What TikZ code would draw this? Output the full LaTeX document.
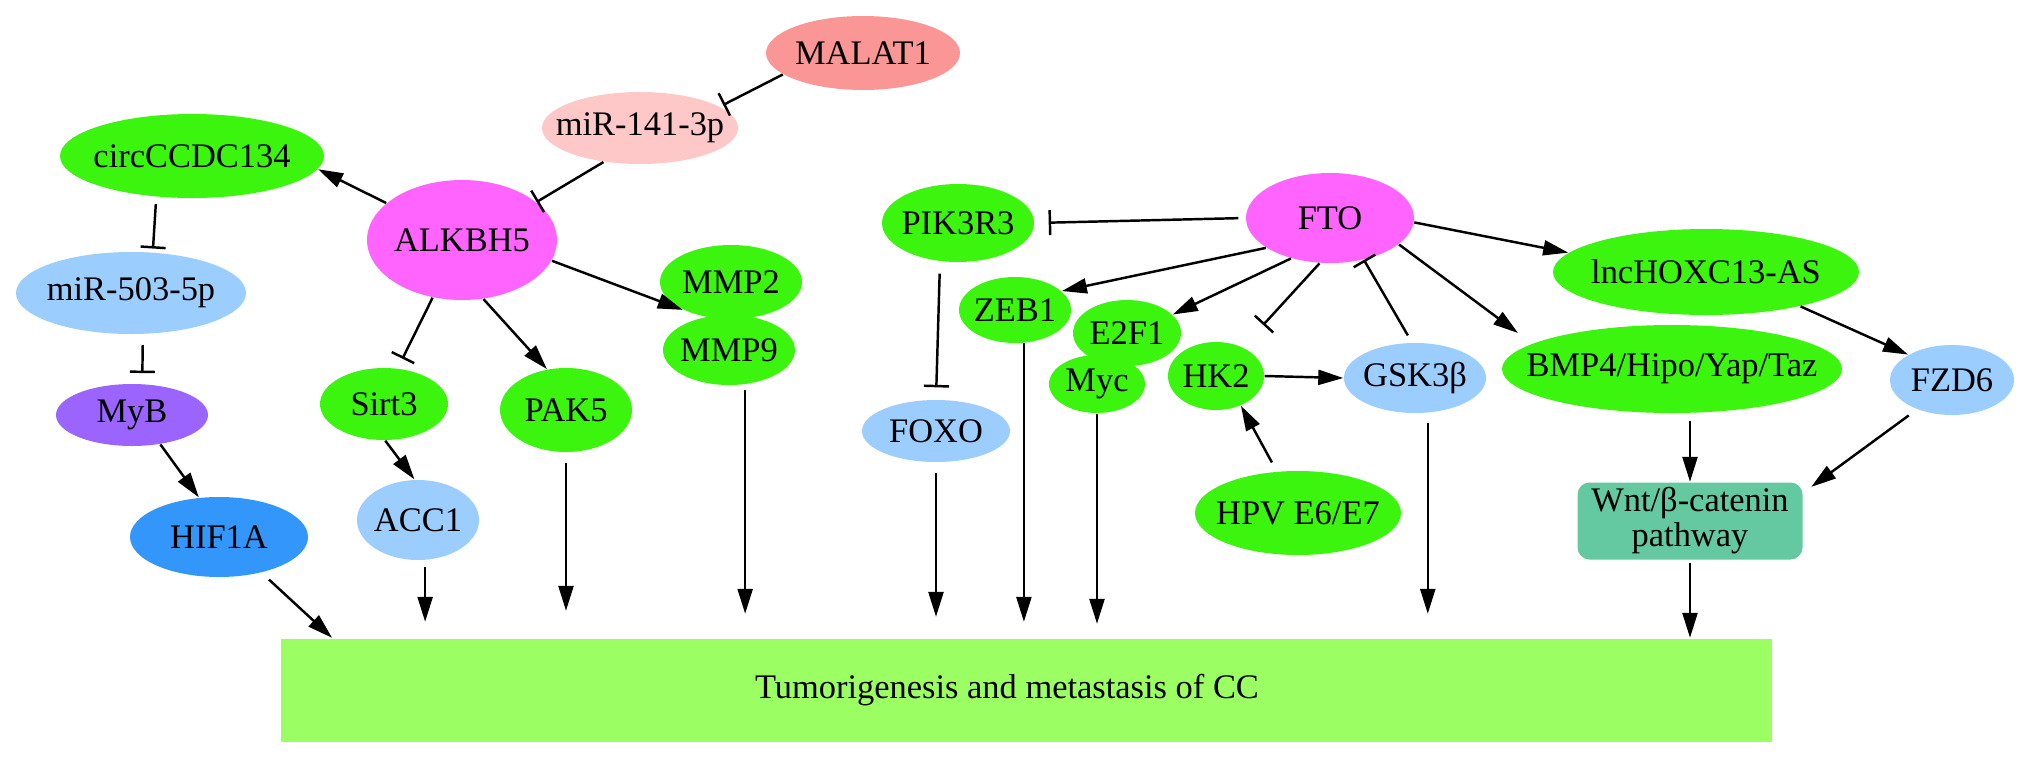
\documentclass[tikz,border=0pt]{standalone}
\usepackage{fontspec}
\setmainfont{Liberation Serif}
\usetikzlibrary{arrows.meta,positioning,shapes.geometric,calc}

\definecolor{geneGreen}{RGB}{60,245,15}
\definecolor{outGreen}{RGB}{155,255,100}
\definecolor{eraserPink}{RGB}{255,100,255}
\definecolor{softBlue}{RGB}{155,205,255}
\definecolor{lncRed}{RGB}{250,150,150}
\definecolor{mirPink}{RGB}{255,200,200}
\definecolor{mybPurple}{RGB}{155,100,255}
\definecolor{hifBlue}{RGB}{50,150,250}
\definecolor{wntTeal}{RGB}{100,200,160}

\newcommand{\nodefont}{\fontsize{9.8}{10}\selectfont}
\newcommand{\lab}[1]{\makebox[0pt]{#1}}

\begin{document}
\begin{tikzpicture}[
  gene/.style={ellipse, inner sep=0pt, font=\nodefont, fill=geneGreen},
  outcome/.style={rectangle, inner sep=0pt, font=\nodefont, fill=outGreen},
  arrow/.style={-{Triangle[length=2.5mm, width=1.5mm]}, line width=0.7pt},
  inhibit/.style={-{Bar[width=2.5mm]}, line width=0.7pt}
]
\useasboundingbox (0,0) rectangle (20.31,-7.59);

% ALKBH5 axis
\node[gene, fill=lncRed, minimum width=1.94cm, minimum height=0.74cm] (malat) at (8.63,-0.53) {\lab{MALAT1}};
\node[gene, fill=mirPink, minimum width=1.96cm, minimum height=0.72cm] (mir141) at (6.40,-1.28) {\lab{miR-141-3p}};
\node[gene, fill=eraserPink, minimum width=1.90cm, minimum height=1.20cm] (alkbh5) at (4.62,-2.40) {\lab{ALKBH5}};
\node[gene, minimum width=2.64cm, minimum height=0.84cm] (circ) at (1.92,-1.56) {\lab{circCCDC134}};
\node[gene, fill=softBlue, minimum width=2.30cm, minimum height=0.82cm] (mir503) at (1.31,-2.93) {\lab{miR-503-5p}};
\node[gene, fill=mybPurple, minimum width=1.52cm, minimum height=0.62cm] (myb) at (1.32,-4.15) {\lab{MyB}};
\node[gene, fill=hifBlue, minimum width=1.78cm, minimum height=0.80cm] (hif1a) at (2.19,-5.37) {\lab{HIF1A}};
\node[gene, minimum width=1.28cm, minimum height=0.72cm] (sirt3) at (3.84,-4.04) {\lab{Sirt3}};
\node[gene, fill=softBlue, minimum width=1.22cm, minimum height=0.80cm] (acc1) at (4.18,-5.20) {\lab{ACC1}};
\node[gene, minimum width=1.32cm, minimum height=0.84cm] (pak5) at (5.66,-4.10) {\lab{PAK5}};
\node[gene, minimum width=1.42cm, minimum height=0.74cm] (mmp2) at (7.31,-2.82) {\lab{MMP2}};
\node[gene, minimum width=1.32cm, minimum height=0.70cm] (mmp9) at (7.29,-3.50) {\lab{MMP9}};

% FTO axis
\node[gene, fill=eraserPink, minimum width=1.68cm, minimum height=0.90cm] (fto) at (13.30,-2.18) {\lab{FTO}};
\node[gene, minimum width=1.52cm, minimum height=0.78cm] (pik3r3) at (9.58,-2.23) {\lab{PIK3R3}};
\node[gene, fill=softBlue, minimum width=1.48cm, minimum height=0.62cm] (foxo) at (9.36,-4.31) {\lab{FOXO}};
\node[gene, minimum width=1.12cm, minimum height=0.66cm] (zeb1) at (10.15,-3.10) {\lab{ZEB1}};
\node[gene, minimum width=1.08cm, minimum height=0.66cm] (e2f1) at (11.27,-3.33) {\lab{E2F1}};
\node[gene, minimum width=0.96cm, minimum height=0.58cm] (myc) at (10.97,-3.84) {\lab{Myc}};
\node[gene, minimum width=0.96cm, minimum height=0.68cm] (hk2) at (12.16,-3.76) {\lab{HK2}};
\node[gene, fill=softBlue, minimum width=1.42cm, minimum height=0.70cm] (gsk3b) at (14.15,-3.78) {\lab{GSK3β}};
\node[gene, minimum width=2.06cm, minimum height=0.84cm] (hpv) at (12.98,-5.13) {\lab{HPV E6/E7}};
\node[gene, minimum width=3.06cm, minimum height=0.86cm] (lnc) at (17.06,-2.72) {\lab{lncHOXC13-AS}};
\node[gene, minimum width=3.40cm, minimum height=0.88cm] (bmp4) at (16.72,-3.69) {\lab{BMP4/Hipo/Yap/Taz}};
\node[gene, fill=softBlue, minimum width=1.24cm, minimum height=0.70cm] (fzd6) at (19.52,-3.80) {\lab{FZD6}};
\node[outcome, fill=wntTeal, rounded corners=0.12cm, minimum width=2.25cm, minimum height=0.77cm, align=center] (wnt) at (16.90,-5.21) {Wnt/β-catenin\\ pathway};

% Outcome
\node[outcome, minimum width=14.91cm, minimum height=1.03cm] (tumor) at (10.26,-6.90) {\hspace*{-0.38cm}Tumorigenesis and metastasis of CC};

% ALKBH5 edges
\draw[inhibit, shorten >=1pt] (malat.195) -- (mir141.15);
\draw[inhibit] (mir141.223) -- (alkbh5.27);
\draw[arrow] (alkbh5.154) -- (circ.-6);
\draw[inhibit, shorten <=2pt, shorten >=1pt] (circ.229) -- (mir503.62);
\draw[inhibit, shorten <=3pt, shorten >=3pt] (mir503.-74) -- (myb.72);
\draw[arrow] (myb.-46) -- (hif1a.117);
\draw[arrow, shorten <=0.1cm] (hif1a.-40) -- ($(tumor.north west)!0.035!(tumor.north east)$);
\draw[inhibit, shorten >=3pt] (alkbh5.-117) -- (sirt3.69);
\draw[arrow] (alkbh5.-70) -- (pak5.115);
\draw[arrow] (sirt3.-88) -- (acc1.95);
\draw[arrow] (alkbh5.-13) -- (mmp2.210);
\draw[arrow, shorten <=0.07cm, shorten >=0.16cm] (acc1.-80) -- (acc1.-80 |- tumor.north);
\draw[arrow, shorten <=0.1cm, shorten >=0.27cm] (pak5.south) -- (pak5.south |- tumor.north);
\draw[arrow, shorten <=0.05cm, shorten >=0.24cm] (mmp9.-65) -- (mmp9.-65 |- tumor.north);

% FTO edges
\draw[inhibit, shorten <=0.07cm, shorten >=0.14cm] (fto.west) -- (pik3r3.east);
\draw[inhibit, shorten <=0.12cm, shorten >=0.12cm] (pik3r3.-115) -- (foxo.north);
\draw[arrow, shorten <=0.1cm, shorten >=0.21cm] (foxo.south) -- (foxo.south |- tumor.north);
\draw[arrow] (fto.205) -- (zeb1.22);
\draw[arrow, shorten >=0.16cm] (zeb1.-75) -- (zeb1.-75 |- tumor.north);
\draw[arrow] (fto.226) -- (e2f1.22);
\draw[arrow, shorten >=0.14cm] (myc.south) -- (myc.south |- tumor.north);
\draw[inhibit, shorten >=0.3cm] (fto.257) -- (hk2.47);
\draw[arrow, shorten <=0.1cm] (hpv.117) -- (hk2.-50);
\draw[arrow] (hk2.east) -- (gsk3b.west);
\draw[inhibit, shorten <=0.08cm] (gsk3b.95) -- (fto.-51);
\draw[arrow, shorten <=0.1cm, shorten >=0.24cm] (gsk3b.-70) -- (gsk3b.-70 |- tumor.north);
\draw[arrow] (fto.-21) -- ([shift={(-1.54,0.36)}]bmp4.center);
\draw[arrow] (fto.-3) -- (lnc.172);
\draw[arrow] (lnc.-20) -- (fzd6.150);
\draw[arrow, shorten <=0.07cm] (bmp4.south -| wnt.north) -- (wnt.north);
\draw[arrow, shorten <=0.1cm, shorten >=0.1cm] (fzd6.220) -- (wnt.14);
\draw[arrow, shorten <=0.03cm] (wnt.south) -- (wnt.south |- tumor.north);

\end{tikzpicture}
\end{document}
